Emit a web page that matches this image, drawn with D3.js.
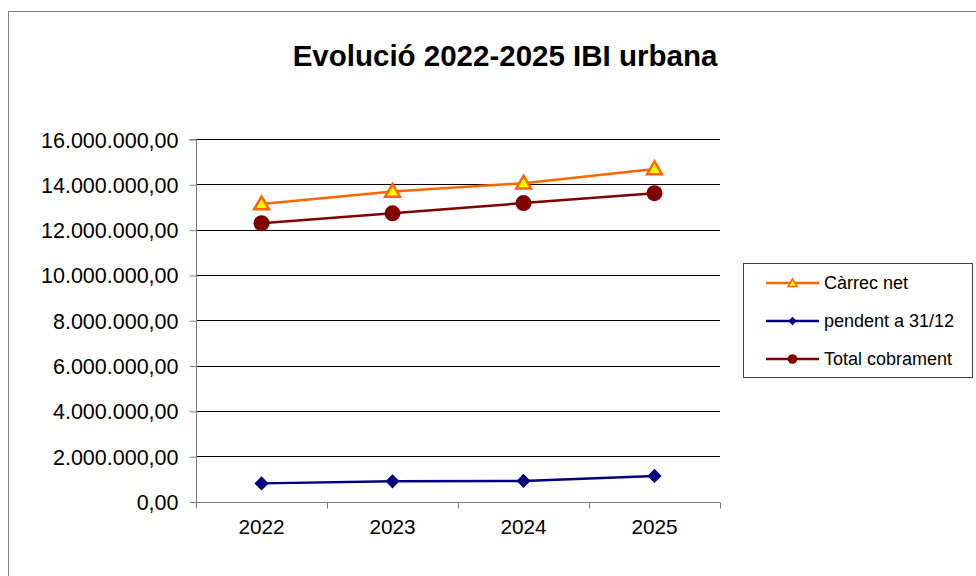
<!DOCTYPE html>
<html>
<head>
<meta charset="utf-8">
<script src="https://cdn.jsdelivr.net/npm/d3@7"></script>
<style>
  body { margin: 0; background: #fff; }
  text { font-family: "Liberation Sans", Arial, sans-serif; fill: #000; }
</style>
</head>
<body>
<div id="chart"></div>
<script>
// data
const years = ["2022", "2023", "2024", "2025"];
const carrecNet = [13130000, 13680000, 14050000, 14680000];
const pendent = [800000, 890000, 910000, 1130000];
const totalCobrament = [12280000, 12720000, 13170000, 13610000];
const yTicks = [0, 2000000, 4000000, 6000000, 8000000, 10000000, 12000000, 14000000, 16000000];

const W = 976, H = 576;
const plot = { left: 196, right: 720, top: 139, bottom: 501.5 };

const svg = d3.select("#chart").append("svg")
    .attr("width", W)
    .attr("height", H);

// outer chart border (runs off the right and bottom)
svg.append("rect")
    .attr("x", 8.5).attr("y", 11.5)
    .attr("width", W + 10).attr("height", H + 10)
    .attr("fill", "#fff")
    .attr("stroke", "#808080");

const x = d3.scaleBand().domain(years).range([plot.left, plot.right]);
const y = d3.scaleLinear().domain([0, 16000000]).range([plot.bottom, plot.top]);

const fmt = v => {
    const s = d3.format(",.2f")(v);
    return s.replace(/,/g, "#").replace(".", ",").replace(/#/g, ".");
};

// title
svg.append("text")
    .attr("x", 505).attr("y", 66)
    .attr("text-anchor", "middle")
    .style("font-size", "29.5px")
    .style("font-weight", "bold")
    .text("Evolució 2022-2025 IBI urbana");

// gridlines
svg.append("g")
    .selectAll("line")
    .data(yTicks.filter(d => d > 0))
    .enter().append("line")
    .attr("x1", plot.left).attr("x2", plot.right)
    .attr("y1", d => Math.round(y(d)) + 0.5)
    .attr("y2", d => Math.round(y(d)) + 0.5)
    .attr("stroke", "#000");

// y axis
const yAxis = svg.append("g")
    .attr("transform", `translate(${plot.left + 0.5}, 0.5)`)
    .call(d3.axisLeft(y).tickValues(yTicks).tickFormat(fmt).tickSize(7).tickPadding(11));
yAxis.select(".domain").attr("stroke", "#808080").attr("d", `M-7,${y(16000000)}H0V${y(0)}`);
yAxis.selectAll(".tick line").attr("stroke", "#808080");
yAxis.selectAll(".tick text").style("font-size", "21.5px").attr("dy", "0.35em");

// x axis
const xAxis = svg.append("g")
    .attr("transform", `translate(0, ${Math.round(plot.bottom) + 0.5})`)
    .call(d3.axisBottom(x).tickSize(0).tickPadding(17));
xAxis.select(".domain").attr("stroke", "#808080").attr("d", `M${plot.left},0H${plot.right}`);
xAxis.selectAll(".tick text").style("font-size", "20.8px");
xAxis.append("g")
    .selectAll("line")
    .data(d3.range(years.length + 1))
    .enter().append("line")
    .attr("x1", i => Math.round(plot.left + i * x.bandwidth()) + 0.5)
    .attr("x2", i => Math.round(plot.left + i * x.bandwidth()) + 0.5)
    .attr("y1", 0).attr("y2", 6)
    .attr("stroke", "#808080");

const series = [
    { name: "Càrrec net", values: carrecNet, color: "#ff6600", marker: "triangle" },
    { name: "pendent a 31/12", values: pendent, color: "#000080", marker: "diamond" },
    { name: "Total cobrament", values: totalCobrament, color: "#800000", marker: "circle" }
];

const line = d3.line()
    .x((d, i) => x(years[i]) + x.bandwidth() / 2)
    .y(d => y(d));

function drawMarker(g, type, color, cx, cy, scale) {
    if (type === "triangle") {
        g.append("path")
            .attr("d", d3.symbol().type(d3.symbolTriangle).size(95 * scale * scale)())
            .attr("transform", `translate(${cx}, ${cy + 1})`)
            .attr("fill", "#ffff00")
            .attr("stroke", color)
            .attr("stroke-width", 2.5 * scale);
    } else if (type === "diamond") {
        g.append("path")
            .attr("d", d3.symbol().type(d3.symbolSquare).size(100 * scale * scale)())
            .attr("transform", `translate(${cx}, ${cy}) rotate(45)`)
            .attr("fill", color);
    } else {
        g.append("circle")
            .attr("cx", cx).attr("cy", cy)
            .attr("r", 8 * scale)
            .attr("fill", color);
    }
}

series.forEach(s => {
    const g = svg.append("g");
    g.append("path")
        .datum(s.values)
        .attr("d", line)
        .attr("fill", "none")
        .attr("stroke", s.color)
        .attr("stroke-width", 2.5);
    s.values.forEach((v, i) => {
        drawMarker(g, s.marker, s.color, x(years[i]) + x.bandwidth() / 2, y(v), 1);
    });
});

// legend
const legend = svg.append("g");
legend.append("rect")
    .attr("x", 743.5).attr("y", 263.5)
    .attr("width", 229).attr("height", 114)
    .attr("fill", "#fff")
    .attr("stroke", "#404040");

series.forEach((s, i) => {
    const ly = 283 + i * 38;
    legend.append("line")
        .attr("x1", 766).attr("x2", 819)
        .attr("y1", ly).attr("y2", ly)
        .attr("stroke", s.color)
        .attr("stroke-width", 2.5);
    drawMarker(legend, s.marker, s.color, 792.5, ly, 0.6);
    legend.append("text")
        .attr("x", 824).attr("y", ly)
        .attr("dy", "0.35em")
        .style("font-size", "18px")
        .text(s.name);
});
</script>
</body>
</html>
